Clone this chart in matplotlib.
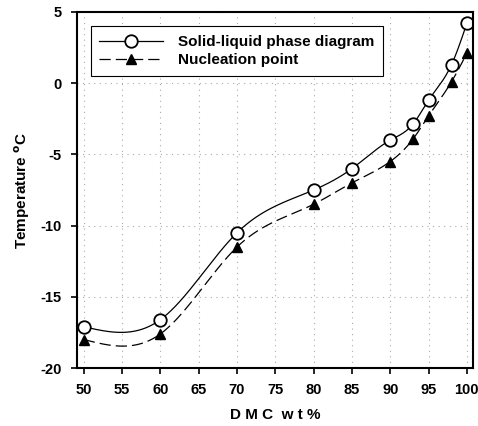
import numpy as np
import matplotlib
matplotlib.use("Agg")
import matplotlib.pyplot as plt

dmc = [50, 60, 70, 80, 85, 90, 93, 95, 98, 100]
solid_liquid = [-17.1, -16.6, -10.5, -7.5, -6.0, -4.0, -2.85, -1.2, 1.3, 4.2]
nucleation = [-18.0, -17.6, -11.5, -8.5, -7.0, -5.5, -3.9, -2.3, 0.1, 2.1]
xticks = [50, 55, 60, 65, 70, 75, 80, 85, 90, 95, 100]
yticks = [-20, -15, -10, -5, 0, 5]


def natural_spline(x, y, n=400):
    x = np.asarray(x, float)
    y = np.asarray(y, float)
    m = len(x)
    h = np.diff(x)
    A = np.zeros((m, m))
    b = np.zeros(m)
    A[0, 0] = A[-1, -1] = 1
    for i in range(1, m - 1):
        A[i, i - 1] = h[i - 1]
        A[i, i] = 2 * (h[i - 1] + h[i])
        A[i, i + 1] = h[i]
        b[i] = 6 * ((y[i + 1] - y[i]) / h[i] - (y[i] - y[i - 1]) / h[i - 1])
    M = np.linalg.solve(A, b)
    xs = np.linspace(x[0], x[-1], n)
    idx = np.clip(np.searchsorted(x, xs) - 1, 0, m - 2)
    x0, x1 = x[idx], x[idx + 1]
    hh = x1 - x0
    t0 = x1 - xs
    t1 = xs - x0
    ys = (M[idx] * t0**3 / (6 * hh) + M[idx + 1] * t1**3 / (6 * hh)
          + (y[idx] / hh - M[idx] * hh / 6) * t0
          + (y[idx + 1] / hh - M[idx + 1] * hh / 6) * t1)
    return xs, ys


plt.rcParams['font.family'] = ['Liberation Sans', 'DejaVu Sans']
plt.rcParams['font.weight'] = 'bold'
plt.rcParams['axes.unicode_minus'] = False

fig = plt.figure(figsize=(4.78, 4.26), dpi=100)
ax = fig.add_axes([0.161, 0.136, 0.8285, 0.836])

xs, ys = natural_spline(dmc, solid_liquid)
ax.plot(xs, ys, color='black', lw=0.9, ls='-')
xs2, ys2 = natural_spline(dmc, nucleation)
ax.plot(xs2, ys2, color='black', lw=0.9, ls=(0, (9, 4)))
ax.plot(dmc, solid_liquid, ls='none', marker='o', ms=9, mfc='white',
        mec='black', mew=1.3)
ax.plot(dmc, nucleation, ls='none', marker='^', ms=6.5, mfc='black',
        mec='black')

# legend proxies
h1, = ax.plot([], [], color='black', lw=0.9, marker='o', ms=9, mfc='white',
              mec='black', mew=1.3)
h2, = ax.plot([], [], color='black', lw=0.9, ls=(0, (9, 4)), marker='^',
              ms=6.5, mfc='black', mec='black')
leg = ax.legend([h1, h2], ['Solid-liquid phase diagram', 'Nucleation point'],
                loc='upper left', bbox_to_anchor=(0.023, 0.972), fancybox=False,
                edgecolor='black', framealpha=1, handlelength=4.2,
                borderpad=0.55, labelspacing=0.3, handletextpad=1.0,
                borderaxespad=0.3, prop={'weight': 'bold', 'size': 11})
leg.get_frame().set_linewidth(0.8)

ax.set_xlim(49.1, 100.8)
ax.set_ylim(-20, 5)
ax.set_xticks(xticks)
ax.set_yticks(yticks)
ax.set_xticklabels([str(v) for v in xticks])
ax.set_yticklabels([str(v) for v in yticks])
ax.grid(True, color='#aaaaaa', ls=(0, (1, 4)), lw=0.8)
ax.tick_params(direction='out', length=4, width=1.2, labelsize=10.5, pad=7)
for lab in ax.get_xticklabels() + ax.get_yticklabels():
    lab.set_fontweight('bold')
for s in ax.spines.values():
    s.set_linewidth(1.5)

ax.set_xlabel('D M C  w t %', fontsize=11, fontweight='bold', labelpad=8)
ax.set_ylabel('Temperature $^{\\mathbf{o}}$C', fontsize=11, fontweight='bold',
              labelpad=6)

fig.savefig('out.png', dpi=100)
